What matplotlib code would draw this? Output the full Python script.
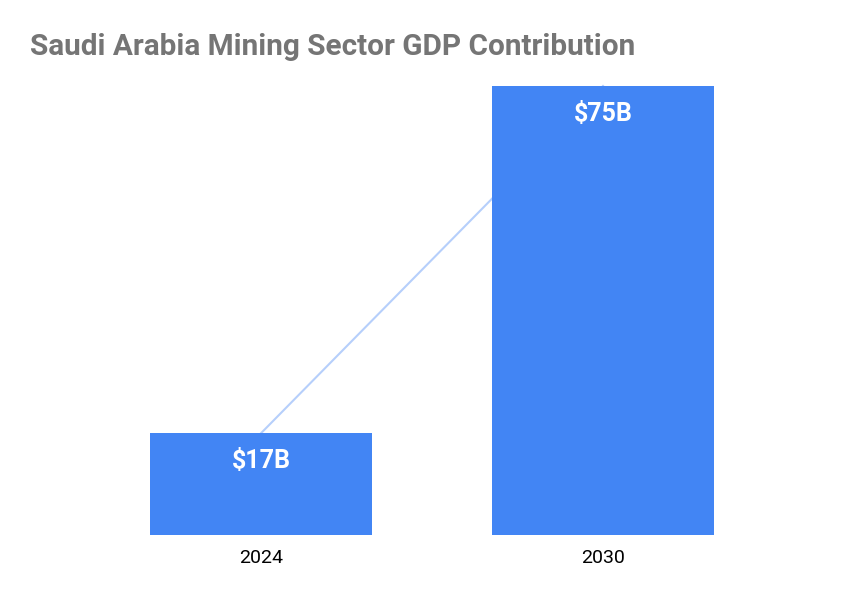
import numpy as np
import matplotlib.pyplot as plt

plt.rcParams['font.family'] = ['Roboto', 'DejaVu Sans']

years = ['2024', '2030']
gdp = [17, 75]
labels = ['$17B', '$75B']

BLUE = '#4285f4'

def main():
    fig = plt.figure(figsize=(8.64, 6), dpi=100)
    # axes placed so that bar baseline sits at ~535px, 75 at ~86px
    ax = fig.add_axes([90/864, 65/600, 684/864, 449/600 * 85/75])
    x = np.arange(len(years))
    ax.plot(x, gdp, color='#b6cffb', lw=1.5, zorder=1)
    ax.bar(x, gdp, width=0.65, color=BLUE, zorder=2)
    for xi, v, lab in zip(x, gdp, labels):
        ax.annotate(lab, (xi, v), xytext=(0, -11.5), textcoords='offset points',
                    ha='center', va='top', color='white', fontsize=18,
                    fontweight='bold', zorder=3)
    ax.set_xlim(-0.5, 1.5)
    ax.set_ylim(0, 85)
    ax.set_xticks(x)
    ax.set_xticklabels(years, fontsize=14, color='black')
    ax.tick_params(axis='x', length=0, pad=10)
    ax.set_yticks([])
    for s in ax.spines.values():
        s.set_visible(False)
    fig.text(30/864, 1 - 47/600, 'Saudi Arabia Mining Sector GDP Contribution',
             fontsize=21.4, fontweight='bold', color='#757575', va='center', ha='left')
    fig.savefig('out.png', dpi=100)

main()
